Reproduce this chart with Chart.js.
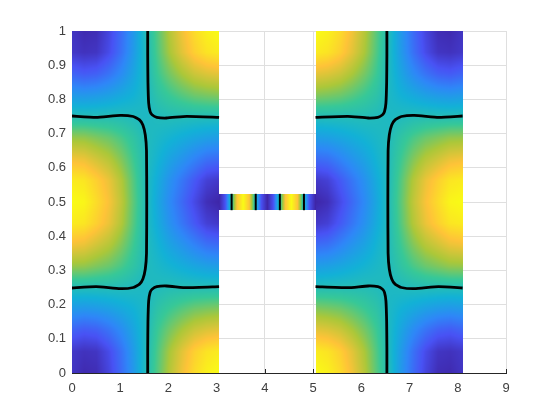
<!DOCTYPE html>
<html>
<head>
<meta charset="utf-8">
<style>
  html, body { margin: 0; padding: 0; background: #fff; }
  canvas { display: block; }
</style>
<script src="https://cdn.jsdelivr.net/npm/chart.js@4"></script>
</head>
<body>
<canvas id="chart" width="560" height="420"></canvas>
<script>
const xTickLabels = ['0', '1', '2', '3', '4', '5', '6', '7', '8', '9'];
const yTickLabels = ['0', '0.1', '0.2', '0.3', '0.4', '0.5', '0.6', '0.7', '0.8', '0.9', '1'];

// grid rows shared by the two big blocks, bottom to top
const blockY = [0, 0.0625, 0.125, 0.1875, 0.25, 0.3125, 0.375, 0.4375, 0.5, 0.5625, 0.625, 0.6875, 0.75, 0.8125, 0.875, 0.9375, 1];

const leftX = [0, 0.254, 0.508, 0.763, 1.017, 1.271, 1.525, 1.779, 2.033, 2.288, 2.542, 2.796, 3.05];
const leftValues = [
  [-0.90, -0.97, -0.95, -0.80, -0.58, -0.32, -0.02, 0.22, 0.47, 0.67, 0.84, 0.95, 1.00],
  [-0.88, -0.92, -0.90, -0.76, -0.55, -0.30, -0.04, 0.20, 0.43, 0.62, 0.78, 0.88, 0.92],
  [-0.62, -0.67, -0.64, -0.54, -0.40, -0.23, -0.05, 0.15, 0.30, 0.43, 0.54, 0.60, 0.63],
  [-0.30, -0.32, -0.30, -0.26, -0.20, -0.14, -0.06, 0.07, 0.15, 0.22, 0.28, 0.31, 0.33],
  [0.00, 0.00, 0.00, 0.00, -0.01, -0.03, -0.06, -0.02, 0.00, 0.00, 0.00, 0.00, 0.00],
  [0.38, 0.37, 0.32, 0.27, 0.19, 0.09, -0.02, -0.07, -0.12, -0.17, -0.22, -0.26, -0.28],
  [0.68, 0.65, 0.56, 0.47, 0.33, 0.16, -0.01, -0.12, -0.24, -0.34, -0.45, -0.55, -0.58],
  [0.92, 0.89, 0.78, 0.65, 0.46, 0.22, -0.01, -0.18, -0.36, -0.52, -0.68, -0.83, -0.88],
  [1.00, 0.97, 0.84, 0.70, 0.50, 0.24, 0.00, -0.21, -0.41, -0.59, -0.77, -0.94, -1.00],
  [0.92, 0.89, 0.78, 0.65, 0.46, 0.22, -0.01, -0.18, -0.36, -0.52, -0.68, -0.83, -0.88],
  [0.68, 0.65, 0.56, 0.47, 0.33, 0.16, -0.01, -0.12, -0.24, -0.34, -0.45, -0.55, -0.58],
  [0.38, 0.37, 0.32, 0.27, 0.19, 0.09, -0.02, -0.07, -0.12, -0.17, -0.22, -0.26, -0.28],
  [0.00, 0.00, 0.00, 0.00, -0.01, -0.03, -0.06, -0.02, 0.00, 0.00, 0.00, 0.00, 0.00],
  [-0.30, -0.32, -0.30, -0.26, -0.20, -0.14, -0.06, 0.07, 0.15, 0.22, 0.28, 0.31, 0.33],
  [-0.62, -0.67, -0.64, -0.54, -0.40, -0.23, -0.05, 0.15, 0.30, 0.43, 0.54, 0.60, 0.63],
  [-0.88, -0.92, -0.90, -0.76, -0.55, -0.30, -0.04, 0.20, 0.43, 0.62, 0.78, 0.88, 0.92],
  [-0.90, -0.97, -0.95, -0.80, -0.58, -0.32, -0.02, 0.22, 0.47, 0.67, 0.84, 0.95, 1.00]
];

const rightX = [5.05, 5.304, 5.558, 5.813, 6.067, 6.321, 6.575, 6.829, 7.083, 7.338, 7.592, 7.846, 8.1];
const rightValues = [
  [1.00, 0.95, 0.84, 0.67, 0.47, 0.22, -0.02, -0.32, -0.58, -0.80, -0.95, -0.97, -0.90],
  [0.92, 0.88, 0.78, 0.62, 0.43, 0.20, -0.04, -0.30, -0.55, -0.76, -0.90, -0.92, -0.88],
  [0.63, 0.60, 0.54, 0.43, 0.30, 0.15, -0.05, -0.23, -0.40, -0.54, -0.64, -0.67, -0.62],
  [0.33, 0.31, 0.28, 0.22, 0.15, 0.07, -0.06, -0.14, -0.20, -0.26, -0.30, -0.32, -0.30],
  [0.00, 0.00, 0.00, 0.00, 0.00, -0.02, -0.06, -0.03, -0.01, 0.00, 0.00, 0.00, 0.00],
  [-0.28, -0.26, -0.22, -0.17, -0.12, -0.07, -0.02, 0.09, 0.19, 0.27, 0.32, 0.37, 0.38],
  [-0.58, -0.55, -0.45, -0.34, -0.24, -0.12, -0.01, 0.16, 0.33, 0.47, 0.56, 0.65, 0.68],
  [-0.88, -0.83, -0.68, -0.52, -0.36, -0.18, -0.01, 0.22, 0.46, 0.65, 0.78, 0.89, 0.92],
  [-1.00, -0.94, -0.77, -0.59, -0.41, -0.21, 0.00, 0.24, 0.50, 0.70, 0.84, 0.97, 1.00],
  [-0.88, -0.83, -0.68, -0.52, -0.36, -0.18, -0.01, 0.22, 0.46, 0.65, 0.78, 0.89, 0.92],
  [-0.58, -0.55, -0.45, -0.34, -0.24, -0.12, -0.01, 0.16, 0.33, 0.47, 0.56, 0.65, 0.68],
  [-0.28, -0.26, -0.22, -0.17, -0.12, -0.07, -0.02, 0.09, 0.19, 0.27, 0.32, 0.37, 0.38],
  [0.00, 0.00, 0.00, 0.00, 0.00, -0.02, -0.06, -0.03, -0.01, 0.00, 0.00, 0.00, 0.00],
  [0.33, 0.31, 0.28, 0.22, 0.15, 0.07, -0.06, -0.14, -0.20, -0.26, -0.30, -0.32, -0.30],
  [0.63, 0.60, 0.54, 0.43, 0.30, 0.15, -0.05, -0.23, -0.40, -0.54, -0.64, -0.67, -0.62],
  [0.92, 0.88, 0.78, 0.62, 0.43, 0.20, -0.04, -0.30, -0.55, -0.76, -0.90, -0.92, -0.88],
  [1.00, 0.95, 0.84, 0.67, 0.47, 0.22, -0.02, -0.32, -0.58, -0.80, -0.95, -0.97, -0.90]
];

// the thin bridge between the blocks
const bridgeX = [3.05, 3.175, 3.3, 3.425, 3.55, 3.675, 3.8, 3.925, 4.05, 4.175, 4.3, 4.425, 4.55, 4.675, 4.8, 4.925, 5.05];
const bridgeY = [0.476, 0.524];
const bridgeValues = [
  [-1.00, -0.72, 0.00, 0.72, 1.00, 0.72, 0.00, -0.72, -1.00, -0.72, 0.00, 0.72, 1.00, 0.72, 0.00, -0.72, -1.00],
  [-1.00, -0.72, 0.00, 0.72, 1.00, 0.72, 0.00, -0.72, -1.00, -0.72, 0.00, 0.72, 1.00, 0.72, 0.00, -0.72, -1.00]
];

// contour lines
const contourLeftMid = [[0, 0.7515], [0.5, 0.7477], [1, 0.7535], [1.27, 0.75], [1.4, 0.74], [1.47, 0.725], [1.52, 0.696], [1.545, 0.65], [1.55, 0.5], [1.545, 0.35], [1.52, 0.304], [1.47, 0.275], [1.4, 0.26], [1.27, 0.25], [1, 0.2465], [0.5, 0.2523], [0, 0.2485]];
const contourLeftTop = [[3.05, 0.7477], [2.38, 0.7505], [1.96, 0.7456], [1.757, 0.7477], [1.66, 0.755], [1.62, 0.764], [1.59, 0.789], [1.575, 0.85], [1.57, 0.93], [1.57, 1]];
const contourLeftBottom = [[3.05, 0.2523], [2.38, 0.2495], [1.96, 0.2544], [1.757, 0.2523], [1.66, 0.245], [1.62, 0.236], [1.59, 0.211], [1.575, 0.15], [1.57, 0.07], [1.57, 0]];
const contourRightMid = [[8.1, 0.7515], [7.6, 0.7477], [7.1, 0.7535], [6.83, 0.75], [6.7, 0.74], [6.63, 0.725], [6.58, 0.696], [6.555, 0.65], [6.55, 0.5], [6.555, 0.35], [6.58, 0.304], [6.63, 0.275], [6.7, 0.26], [6.83, 0.25], [7.1, 0.2465], [7.6, 0.2523], [8.1, 0.2485]];
const contourRightTop = [[5.05, 0.7477], [5.72, 0.7505], [6.14, 0.7456], [6.343, 0.7477], [6.44, 0.755], [6.48, 0.764], [6.51, 0.789], [6.525, 0.85], [6.53, 0.93], [6.53, 1]];
const contourRightBottom = [[5.05, 0.2523], [5.72, 0.2495], [6.14, 0.2544], [6.343, 0.2523], [6.44, 0.245], [6.48, 0.236], [6.51, 0.211], [6.525, 0.15], [6.53, 0.07], [6.53, 0]];
const contourBridge1 = [[3.31, 0.476], [3.31, 0.524]];
const contourBridge2 = [[3.81, 0.476], [3.81, 0.524]];
const contourBridge3 = [[4.31, 0.476], [4.31, 0.524]];
const contourBridge4 = [[4.81, 0.476], [4.81, 0.524]];

const contours = [contourLeftMid, contourLeftTop, contourLeftBottom, contourRightMid, contourRightTop, contourRightBottom];
const bridgeContours = [contourBridge1, contourBridge2, contourBridge3, contourBridge4];

const parula = [
  [62, 38, 168], [72, 82, 244], [46, 135, 247], [18, 177, 214],
  [55, 200, 151], [171, 199, 57], [254, 195, 56], [249, 251, 21]
];

function colourFor(v) {
  const t = Math.max(0, Math.min(1, (v + 1) / 2)) * (parula.length - 1);
  const i = Math.min(parula.length - 2, Math.floor(t));
  const f = t - i;
  return parula[i].map((c, k) => c + (parula[i + 1][k] - c) * f);
}

function findCell(arr, v) {
  let i = 0;
  while (i < arr.length - 2 && v > arr[i + 1]) i++;
  return [i, Math.max(0, Math.min(1, (v - arr[i]) / (arr[i + 1] - arr[i])))];
}

// paints one block with interpolated shading, like a surface seen from above
function paintBlock(ctx, sx, sy, xs, ys, values) {
  const x0 = Math.round(sx.getPixelForValue(xs[0]));
  const x1 = Math.round(sx.getPixelForValue(xs[xs.length - 1]));
  const y0 = Math.round(sy.getPixelForValue(ys[ys.length - 1]));
  const y1 = Math.round(sy.getPixelForValue(ys[0]));
  const w = x1 - x0, h = y1 - y0;
  const off = document.createElement('canvas');
  off.width = w; off.height = h;
  const octx = off.getContext('2d');
  const img = octx.createImageData(w, h);
  for (let py = 0; py < h; py++) {
    const [r, fy] = findCell(ys, sy.getValueForPixel(y0 + py + 0.5));
    for (let px = 0; px < w; px++) {
      const [c, fx] = findCell(xs, sx.getValueForPixel(x0 + px + 0.5));
      const top = values[r + 1][c] * (1 - fx) + values[r + 1][c + 1] * fx;
      const bot = values[r][c] * (1 - fx) + values[r][c + 1] * fx;
      const col = colourFor(bot * (1 - fy) + top * fy);
      const o = (py * w + px) * 4;
      img.data[o] = col[0]; img.data[o + 1] = col[1]; img.data[o + 2] = col[2]; img.data[o + 3] = 255;
    }
  }
  octx.putImageData(img, 0, 0);
  ctx.drawImage(off, x0, y0);
}

const heatPlugin = {
  id: 'heat',
  beforeDatasetsDraw(chart) {
    const { ctx, scales: { x, y } } = chart;
    // inward ticks sit under the surface
    ctx.save();
    ctx.strokeStyle = '#262626';
    ctx.lineWidth = 1;
    ctx.beginPath();
    x.ticks.forEach(t => {
      const px = Math.round(x.getPixelForValue(t.value)) + 0.5;
      ctx.moveTo(px, y.bottom);
      ctx.lineTo(px, y.bottom - 4);
    });
    y.ticks.forEach(t => {
      const py = Math.round(y.getPixelForValue(t.value)) + 0.5;
      ctx.moveTo(x.left, py);
      ctx.lineTo(x.left + 4, py);
    });
    ctx.stroke();
    paintBlock(ctx, x, y, leftX, blockY, leftValues);
    paintBlock(ctx, x, y, rightX, blockY, rightValues);
    paintBlock(ctx, x, y, bridgeX, bridgeY, bridgeValues);
    ctx.restore();
  }
};

const toPoints = line => line.map(p => ({ x: p[0], y: p[1] }));

const ctx = document.getElementById('chart').getContext('2d');
const chart = new Chart(ctx, {
  type: 'scatter',
  data: {
    datasets: [
      ...contours.map(line => ({
        data: toPoints(line),
        showLine: true,
        borderColor: '#000',
        borderWidth: 2.8,
        tension: 0.15,
        pointRadius: 0,
        fill: false
      })),
      ...bridgeContours.map(line => ({
        data: toPoints(line),
        showLine: true,
        borderColor: '#000',
        borderWidth: 2,
        pointRadius: 0,
        fill: false
      }))
    ]
  },
  options: {
    responsive: false,
    animation: false,
    layout: { padding: { left: 0, top: 31, right: 54, bottom: 0 } },
    plugins: { legend: { display: false }, tooltip: { enabled: false } },
    scales: {
      x: {
        type: 'linear',
        min: 0,
        max: 9,
        afterFit(scale) { scale.height = 47; },
        ticks: {
          stepSize: 1,
          autoSkip: false,
          maxRotation: 0,
          color: '#404040',
          padding: 8,
          font: { family: '"Liberation Sans"', size: 13 },
          callback: (v, i) => xTickLabels[i]
        },
        grid: { color: '#dfdfdf', lineWidth: 1, tickLength: 0 },
        border: { color: '#262626', width: 1 }
      },
      y: {
        type: 'linear',
        min: 0,
        max: 1,
        afterFit(scale) { scale.width = 72; },
        ticks: {
          stepSize: 0.1,
          autoSkip: false,
          color: '#404040',
          padding: 6,
          font: { family: '"Liberation Sans"', size: 13 },
          callback: (v, i) => yTickLabels[i]
        },
        grid: { color: '#dfdfdf', lineWidth: 1, tickLength: 0 },
        border: { color: '#262626', width: 1 }
      }
    }
  },
  plugins: [heatPlugin]
});
</script>
</body>
</html>
